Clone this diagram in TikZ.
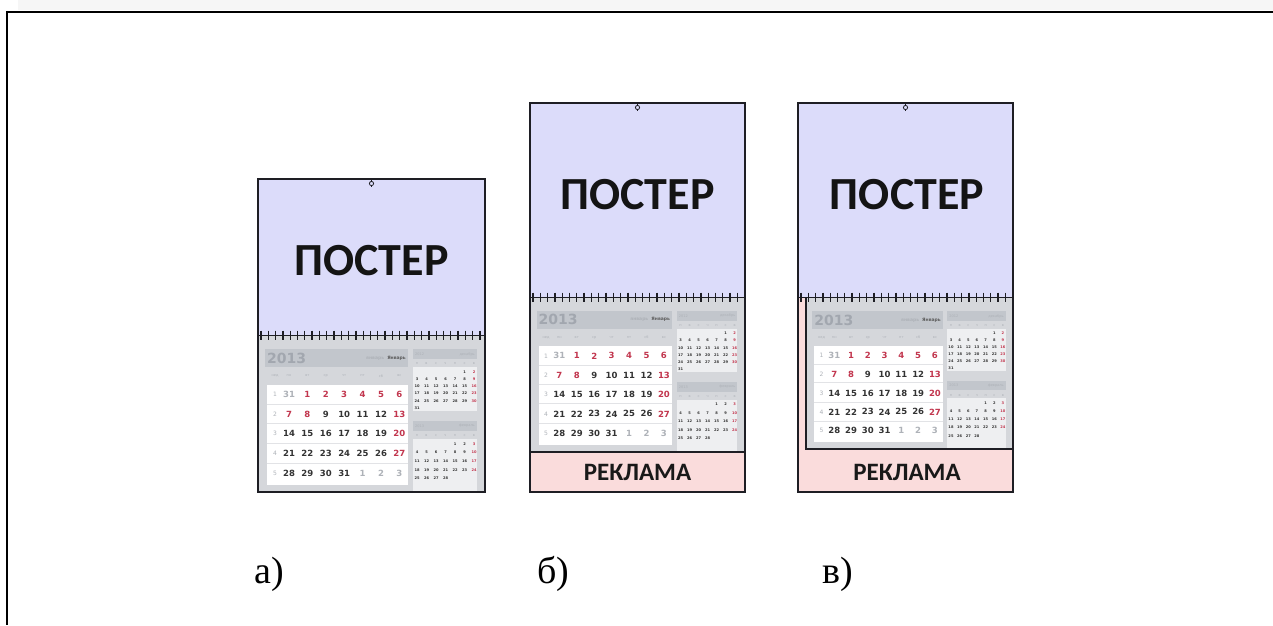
\documentclass[tikz,border=0pt]{standalone}
\usepackage{fontspec}
\setmainfont{Liberation Serif}
\newfontfamily\posterfont{Carlito}
\newfontfamily\calnumfont{DejaVu Sans}

\definecolor{posterfill}{HTML}{DCDCFA}
\definecolor{adfill}{HTML}{FADCDC}
\definecolor{calbg}{HTML}{D5D7DB}
\definecolor{calhead}{HTML}{C2C6CC}
\definecolor{yeargray}{HTML}{A2A7AF}
\definecolor{daydark}{HTML}{333333}
\definecolor{dayred}{HTML}{C2364E}
\definecolor{faintgray}{HTML}{AEB2B8}
\definecolor{framedark}{HTML}{1E1E24}
\definecolor{stripgray}{HTML}{F6F6F6}

\tikzset{
  frameline/.style={draw=framedark, line width=1.8pt},
  postertext/.style={font=\posterfont\bfseries\fontsize{46}{46}\selectfont, text=black!92, inner sep=0pt},
  adtext/.style={font=\posterfont\bfseries\fontsize{25}{25}\selectfont, text=black!90, inner sep=0pt},
  caption/.style={font=\fontsize{38}{38}\selectfont, anchor=base west, inner sep=0pt},
  daynum/.style={font=\calnumfont\bfseries\fontsize{8.5}{8.5}\selectfont, text=daydark, inner sep=0pt},
  weeknum/.style={font=\calnumfont\fontsize{6}{6}\selectfont, text=faintgray, inner sep=0pt},
  tinylabel/.style={font=\calnumfont\fontsize{3.5}{3.5}\selectfont, text=faintgray, inner sep=0pt},
  mininum/.style={font=\calnumfont\bfseries\fontsize{3.6}{3.6}\selectfont, text=daydark, inner sep=0pt},
  yearlabel/.style={font=\calnumfont\bfseries\fontsize{14}{14}\selectfont, text=yeargray, anchor=west, inner sep=0pt},
  monthlabel/.style={font=\calnumfont\bfseries\fontsize{4.5}{4.5}\selectfont, text=daydark!80, anchor=east, inner sep=0pt},
  gridline/.style={draw=calbg!70, line width=0.5pt},
  spiralline/.style={draw=framedark, line width=0.9pt},
  spiraltick/.style={draw=framedark, line width=1.3pt},
  hangerline/.style={draw=framedark, line width=0.8pt}
}

% small month block: top y, offset of the 1st day, number of days, row step, month name, year
\newcommand{\minimonth}[6]{%
  \fill[calhead] (155,#1) rectangle (219,#1+10);
  \node[tinylabel, anchor=west] at (157,#1+5) {#6};
  \node[tinylabel, anchor=east] at (217,#1+5) {#5};
  \foreach \w [count=\i from 0] in {п,в,с,ч,п,с,в}
    \node[tinylabel] at ({159+\i*9.5},#1+15) {\w};
  \fill[white!60!calbg] (155,#1+18) rectangle (219,#1+19+6*#4);
  \foreach \d in {1,...,#3} {
    \pgfmathtruncatemacro\mcol{mod(\d-1+#2,7)}
    \pgfmathtruncatemacro\mrow{(\d-1+#2)/7}
    \ifnum\mcol=6
      \node[mininum, text=dayred] at ({159+\mcol*9.5},{#1+23+\mrow*#4}) {\d};
    \else
      \node[mininum] at ({159+\mcol*9.5},{#1+23+\mrow*#4}) {\d};
    \fi
  }%
}

% quarterly calendar block: left, top, width, height
\newcommand{\wallcal}[4]{%
  \begin{scope}[shift={(#1,#2)}, xscale=#3/227, yscale=#4/157]
    \fill[calbg] (0,0) rectangle (227,157);
    % January header
    \fill[calhead] (7,14) rectangle (150,32);
    \node[yearlabel] at (9,23) {2013};
    \node[monthlabel] at (148,23) {\textcolor{faintgray}{январь}\ \ Январь};
    \node[tinylabel] at (17,41) {нед};
    \foreach \w [count=\i from 0] in {пн,вт,ср,чт,пт,сб,вс}
      \node[tinylabel] at ({31+\i*18.4},41) {\w};
    % January grid
    \fill[white] (9,50) rectangle (150,150);
    \foreach \yy in {69,88,108,128}
      \draw[gridline] (9,\yy) -- (150,\yy);
    \foreach \k in {1,...,5}
      \node[weeknum] at (17,{40+\k*19.6}) {\k};
    \node[daynum, text=faintgray] at (31,59.6) {31};
    \foreach \d [count=\i from 1] in {1,2,3}
      \node[daynum, text=faintgray] at ({31+(3+\i)*18.4},138) {\d};
    \foreach \d in {1,...,31} {
      \pgfmathtruncatemacro\jcol{mod(\d,7)}
      \pgfmathtruncatemacro\jrow{\d/7}
      \pgfmathtruncatemacro\jred{(\d<9)||(\jcol==6)}
      \ifnum\jred=1
        \node[daynum, text=dayred] at ({31+\jcol*18.4},{59.6+\jrow*19.6}) {\d};
      \else
        \node[daynum] at ({31+\jcol*18.4},{59.6+\jrow*19.6}) {\d};
      \fi
    }
    % neighbouring months
    \minimonth{14}{5}{31}{7.2}{декабрь}{2012}
    \minimonth{86}{4}{28}{8.6}{февраль}{2013}
  \end{scope}%
}

% binding spiral along the top edge of a calendar block
\newcommand{\spiral}[3]{%
  \draw[spiralline] (#1,#3) -- (#2,#3);
  \pgfmathtruncatemacro\nticks{(#2-#1-6)/7.3}
  \foreach \k in {0,...,\nticks}
    \draw[spiraltick] ({#1+3+\k*7.3},#3-4.5) -- ++(0,9);
}

% hanger eyelet at the top of the poster
\newcommand{\hanger}[2]{%
  \draw[hangerline] (#1,#2) -- (#1,#2+8);
  \draw[hangerline, fill=posterfill] (#1,#2+4.5) circle (2.1);
}

\begin{document}
\begin{tikzpicture}[x=1pt,y=-1pt]
  \useasboundingbox (0,0) rectangle (1273,625);
  \fill[white] (0,0) rectangle (1273,625);
  \fill[stripgray] (18,0) rectangle (1273,10);
  \draw[line width=2.4pt] (7,12) -- (1273,12);
  \draw[line width=2.4pt] (7,10.8) -- (7,625);

  % variant a
  \fill[posterfill] (258,179) rectangle (485,335);
  \wallcal{258}{335}{227}{157}
  \spiral{258}{485}{335}
  \draw[frameline] (258,179) rectangle (485,492);
  \hanger{371.5}{179}
  \node[postertext] (posterA) at (371.5,261) {ПОСТЕР};

  % variant b
  \fill[posterfill] (530,103) rectangle (745,297);
  \wallcal{530}{297}{215}{155}
  \fill[adfill] (530,452) rectangle (745,492);
  \draw[frameline] (530,452) -- (745,452);
  \spiral{530}{745}{297}
  \draw[frameline] (530,103) rectangle (745,492);
  \hanger{637.5}{103}
  \node[postertext] (posterB) at (637.5,195) {ПОСТЕР};
  \node[adtext] (adB) at (637.5,472) {РЕКЛАМА};

  % variant c
  \fill[posterfill] (798,103) rectangle (1013,297);
  \fill[adfill] (798,297) rectangle (1013,492);
  \wallcal{806}{298}{207}{151}
  \draw[frameline] (806,297) -- (806,449) -- (1013,449);
  \spiral{798}{1013}{297}
  \draw[frameline] (798,103) rectangle (1013,492);
  \hanger{905.5}{103}
  \node[postertext] (posterC) at (907,195) {ПОСТЕР};
  \node[adtext] (adC) at (907,472) {РЕКЛАМА};

  % captions
  \node[caption] (capA) at (254,583) {а)};
  \node[caption] (capB) at (537,583) {б)};
  \node[caption] (capC) at (822,583) {в)};
\end{tikzpicture}
\end{document}
